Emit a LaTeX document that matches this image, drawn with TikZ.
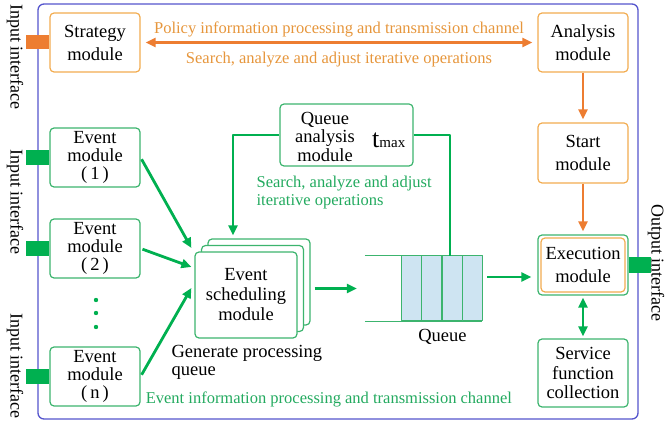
\documentclass[tikz,border=0pt]{standalone}
\usepackage{fontspec}
\setmainfont{Liberation Serif}
\usetikzlibrary{arrows.meta,calc}
\definecolor{ocol}{RGB}{237,125,49}
\definecolor{oline}{RGB}{242,172,80}
\definecolor{otext}{RGB}{230,150,60}
\definecolor{gcol}{RGB}{0,176,80}
\definecolor{gline}{RGB}{60,180,110}
\definecolor{gtext}{RGB}{35,170,95}
\definecolor{fcol}{RGB}{85,85,205}
\definecolor{qfill}{RGB}{206,228,242}
\tikzset{
	mbox/.style={draw, rounded corners=4pt, line width=1.2pt, fill=white, minimum width=90pt, minimum height=59pt, align=center, inner sep=2pt},
	obox/.style={mbox, draw=oline},
	gbox/.style={mbox, draw=gline},
	oarr/.style={ocol, line width=2.6pt, ->},
	garr/.style={gcol, line width=2.8pt, ->},
	lbl/.style={inner sep=2pt, font=\fontsize{16.5}{18}\selectfont},
	side/.style={rotate=-90, font=\fontsize{18}{20}\selectfont},
	port/.style={minimum width=23pt, minimum height=15pt, inner sep=0pt},
	cell/.style={draw=gline, fill=qfill, line width=1.2pt, minimum width=20.25pt, minimum height=65pt, inner sep=0pt}
}
\begin{document}
\begin{tikzpicture}[x=1pt, y=-1pt, line join=round, >={Triangle[length=10pt,width=9pt]}, font=\fontsize{18.5}{23}\selectfont]
	\useasboundingbox (0,0) rectangle (670,422);
	\draw[fcol, line width=1.3pt, rounded corners=6pt] (38,4) rectangle (638,419);
	% orange control chain
	\node[obox] (strat) at (95,42.5) {Strategy\\module};
	\node[obox] (anal) at (583,42.5) {Analysis\\module};
	\node[obox, minimum height=60pt] (start) at (583,153) {Start\\module};
	\node[gbox, minimum height=60pt] (exec) at (583,265) {};
	\node[obox, minimum width=84pt, minimum height=54pt] (execin) at (exec) {Execution\\module};
	\node[gbox, minimum height=68pt, font=\fontsize{18.5}{19.5}\selectfont] (serv) at (583,373) {Service\\function\\collection};
	% event side
	\foreach \n/\y/\t in {ev1/157.5/1, ev2/248.5/2, evn/376.5/n}
	{\node[gbox, font=\fontsize{18.5}{18}\selectfont] (\n) at (95,\y) {Event\\module\\(\,\t\,)};
	 \node[port, fill=gcol, anchor=east] at (\n.west) {};}
	\node[port, minimum height=14pt, fill=ocol, anchor=east] at (strat.west) {};
	\node[port, minimum width=22pt, minimum height=16pt, fill=gcol, anchor=west] at (exec.east) {};
	\foreach \y in {300,313,327} \fill[gcol] (96,\y) circle (2.2pt);
	\foreach \s/\n in {13/schedback, 6.5/schedmid}
	\node[gbox, minimum width=102pt, minimum height=86pt] (\n) at ($(246,295)+(\s,-\s)$) {};
	\node[gbox, minimum width=102pt, minimum height=86pt, font=\fontsize{18.5}{20}\selectfont] (sched) at (246,295) {Event\\scheduling\\module};
	\node[gbox, minimum width=133pt, minimum height=62pt] (qa) at (346.5,135) {};
	\node[align=center, font=\fontsize{18.5}{18.5}\selectfont] (qatxt) at ($(qa.center)+(-21.5,1.5)$) {Queue\\analysis\\module};
	\node[anchor=base west, inner sep=0pt, font=\fontsize{26}{26}\selectfont] (tmax) at ($(qa.center)+(25.5,13)$) {t{\fontsize{15}{15}\selectfont max}};
	% queue
	\node[minimum width=117pt, minimum height=65pt, inner sep=0pt] (queue) at (423.5,288.5) {};
	\foreach \i in {0,...,3}
	\node[cell, anchor=south west] (c\i) at ($(queue.south west)+(36+20.25*\i,0)$) {};
	\draw[gline, line width=1.2pt] (queue.north west) -- (queue.north east) (queue.south west) -- (queue.south east);
	\node (qlbl) at ($(c1.south east)+(0,16)$) {Queue};
	% connectors
	\draw[oarr, <->, shorten <=5pt, shorten >=5pt] (strat) -- (anal)
	node[lbl, text=otext, midway, above=2pt] {Policy information processing and transmission channel}
	node[lbl, text=otext, midway, below=6pt] {Search, analyze and adjust iterative operations};
	\draw[oarr, shorten >=3pt] (anal) -- (start);
	\draw[oarr, shorten >=3pt] (start) -- (exec);
	\draw[garr, <->, shorten <=2pt, shorten >=2pt] (exec) -- (serv);
	\foreach \n/\dy in {ev1/-47, ev2/-28, evn/-7}
	\draw[garr, shorten <=2pt] (\n.east) -- ($(sched.west)+(-3,\dy)$);
	\draw[garr, shorten >=3pt] (qa.west) -| ([xshift=-26pt]schedback.north);
	\draw[gcol, line width=2.8pt] (qa.east) -| ([xshift=26.5pt]queue.north);
	\draw[garr] ($(schedback.east |- queue.west)+(4,0)$) -- ($(queue.west)+(-8,0)$);
	\coordinate (qo) at ($(queue.east)+(5,-11.5)$);
	\draw[garr, shorten >=6pt] (qo) -- (qo -| exec.west);
	% labels
	\node[lbl, text=gtext, align=left, anchor=north west] (qalbl) at ($(qa.south west)+(-25,7.5)$) {Search, analyze and adjust\\iterative operations};
	\node[align=left, anchor=north west, inner sep=2pt, font=\fontsize{18.5}{18}\selectfont] (genlbl) at ($(sched.south west)+(-25,4.5)$) {Generate processing\\queue};
	\node[lbl, text=gtext, anchor=west] (evlbl) at ($(evn.east)+(3,22.5)$) {Event information processing and transmission channel};
	\foreach \y in {57,202,366} \node[side] at (15,\y) {Input interface};
	\node[side] (outlbl) at (656,263) {Output interface};
\end{tikzpicture}
\end{document}
